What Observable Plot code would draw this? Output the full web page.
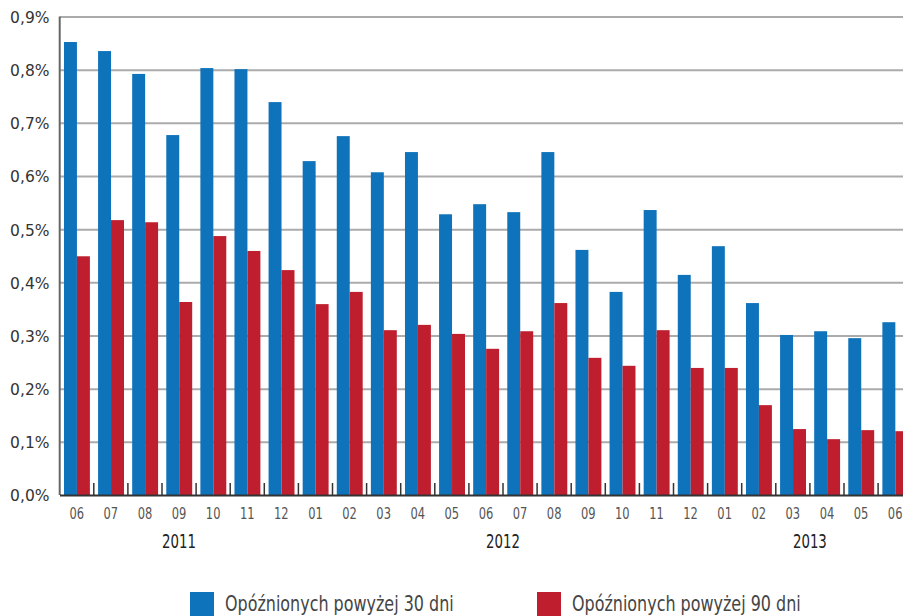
<!DOCTYPE html>
<html>
<head>
<meta charset="utf-8">
<script src="https://cdn.jsdelivr.net/npm/d3@7"></script>
<script src="https://cdn.jsdelivr.net/npm/@observablehq/plot@0.6"></script>
<style>
  body { margin: 0; background: #fff; overflow: hidden; }
  #legend {
    position: relative; height: 30px; margin-top: 12px;
    font-family: "DejaVu Sans Condensed", sans-serif;
    font-size: 22px; color: #454545;
  }
  #legend .item { position: absolute; top: 0; display: flex; align-items: center; }
  #legend .swatch { width: 24px; height: 24px; margin-right: 11px; flex: none; }
  #legend .label {
    line-height: 24px; white-space: nowrap;
    transform: scaleX(0.806); transform-origin: left center;
  }
</style>
</head>
<body>
<div id="chart"></div>
<div id="legend"></div>
<script>
// Monthly share of overdue loans (%), June 2011 – June 2013
const monthLabels = ["06","07","08","09","10","11","12",
  "01","02","03","04","05","06","07","08","09","10","11","12",
  "01","02","03","04","05","06"];
const years = ["2011", "2012", "2013"];
const over30 = [0.852, 0.835, 0.792, 0.677, 0.803, 0.801, 0.739,
  0.628, 0.675, 0.607, 0.645, 0.528, 0.547, 0.532, 0.645, 0.461, 0.382, 0.536, 0.414,
  0.468, 0.361, 0.301, 0.308, 0.295, 0.325];
const over90 = [0.449, 0.517, 0.513, 0.363, 0.487, 0.459, 0.423,
  0.359, 0.382, 0.310, 0.320, 0.303, 0.275, 0.308, 0.361, 0.258, 0.243, 0.310, 0.239,
  0.239, 0.169, 0.124, 0.105, 0.122, 0.120];
const seriesNames = ["Opóźnionych powyżej 30 dni", "Opóźnionych powyżej 90 dni"];
const yTicks = [0, 0.1, 0.2, 0.3, 0.4, 0.5, 0.6, 0.7, 0.8, 0.9];

const colors = ["#0f73bb", "#be1e2d"];
const narrow = "'DejaVu Sans Condensed', sans-serif";

// One row per month; each month occupies one unit on the x scale
const rows = monthLabels.map((month, i) => ({i, month, v30: over30[i], v90: over90[i]}));

// Year spans: a new year starts at each January
let yearIdx = 0;
const monthYear = monthLabels.map((m, i) => (i > 0 && m === "01" ? ++yearIdx : yearIdx));
const yearSpans = years.map((year, k) => {
  const idx = monthYear.map((y, i) => (y === k ? i : -1)).filter(i => i >= 0);
  return {year, start: idx[0], end: idx[idx.length - 1] + 1};
});

// bar layout within a month slot (fractions of the slot)
const lead = 0.14, barW = 0.38;
const boundaries = d3.range(1, monthLabels.length);
const fmt = d => d.toFixed(1).replace(".", ",") + "%";

const chart = Plot.plot({
  width: 903,
  height: 580,
  marginTop: 16.5,
  marginBottom: 85,
  marginLeft: 60,
  marginRight: 0,
  x: {domain: [0, monthLabels.length], range: [59.2, 911.7], axis: null},
  y: {domain: [0, 0.9], axis: null},
  marks: [
    Plot.ruleY(yTicks.filter(t => t > 0), {stroke: "#ababab", strokeWidth: 2}),
    Plot.rect(rows, {x1: d => d.i + lead, x2: d => d.i + lead + barW, y1: 0, y2: "v30", fill: colors[0]}),
    Plot.rect(rows, {x1: d => d.i + lead + barW, x2: d => d.i + lead + 2 * barW, y1: 0, y2: "v90", fill: colors[1]}),
    Plot.ruleX([0], {stroke: "#666", strokeWidth: 2}),
    Plot.ruleY([0], {stroke: "#333", strokeWidth: 2}),
    Plot.ruleX(boundaries, {y1: 0, y2: 0, insetTop: -12, stroke: "#333", strokeWidth: 1.5}),
    Plot.axisY(yTicks, {
      anchor: "left", tickSize: 0, tickPadding: 11, tickFormat: fmt,
      fontSize: 15.5, fontFamily: "DejaVu Sans, sans-serif", fill: "#333", dy: 1
    }),
    // month labels
    Plot.text(rows, {
      x: d => d.i + 0.5, frameAnchor: "bottom", dy: 23, text: "month",
      fontSize: 15, fontFamily: narrow, fill: "#555"
    }),
    // year labels, centred under each year's months
    Plot.text(yearSpans, {
      x: d => (d.start + d.end) / 2, frameAnchor: "bottom", dy: 52, text: "year",
      fontSize: 19.5, fontFamily: narrow, fill: "#222"
    })
  ]
});

// Narrow the label glyphs horizontally around their anchor point
function squeeze(group, s) {
  d3.select(group).selectAll("text").each(function() {
    const t = this.getAttribute("transform") || "";
    const x = +(this.getAttribute("x") || 0);
    this.setAttribute("transform", `${t} translate(${x},0) scale(${s},1) translate(${-x},0)`);
  });
}
const textGroups = chart.querySelectorAll("g[aria-label='text']");
squeeze(textGroups[0], 0.85);
squeeze(textGroups[1], 0.76);

document.getElementById("chart").append(chart);

// Legend below the chart
const legend = document.getElementById("legend");
const legendX = [190, 537];
seriesNames.forEach((name, k) => {
  const item = document.createElement("div");
  item.className = "item";
  item.style.left = legendX[k] + "px";
  const sw = document.createElement("div");
  sw.className = "swatch";
  sw.style.background = colors[k];
  const label = document.createElement("span");
  label.className = "label";
  label.textContent = name;
  item.append(sw, label);
  legend.append(item);
});
</script>
</body>
</html>
